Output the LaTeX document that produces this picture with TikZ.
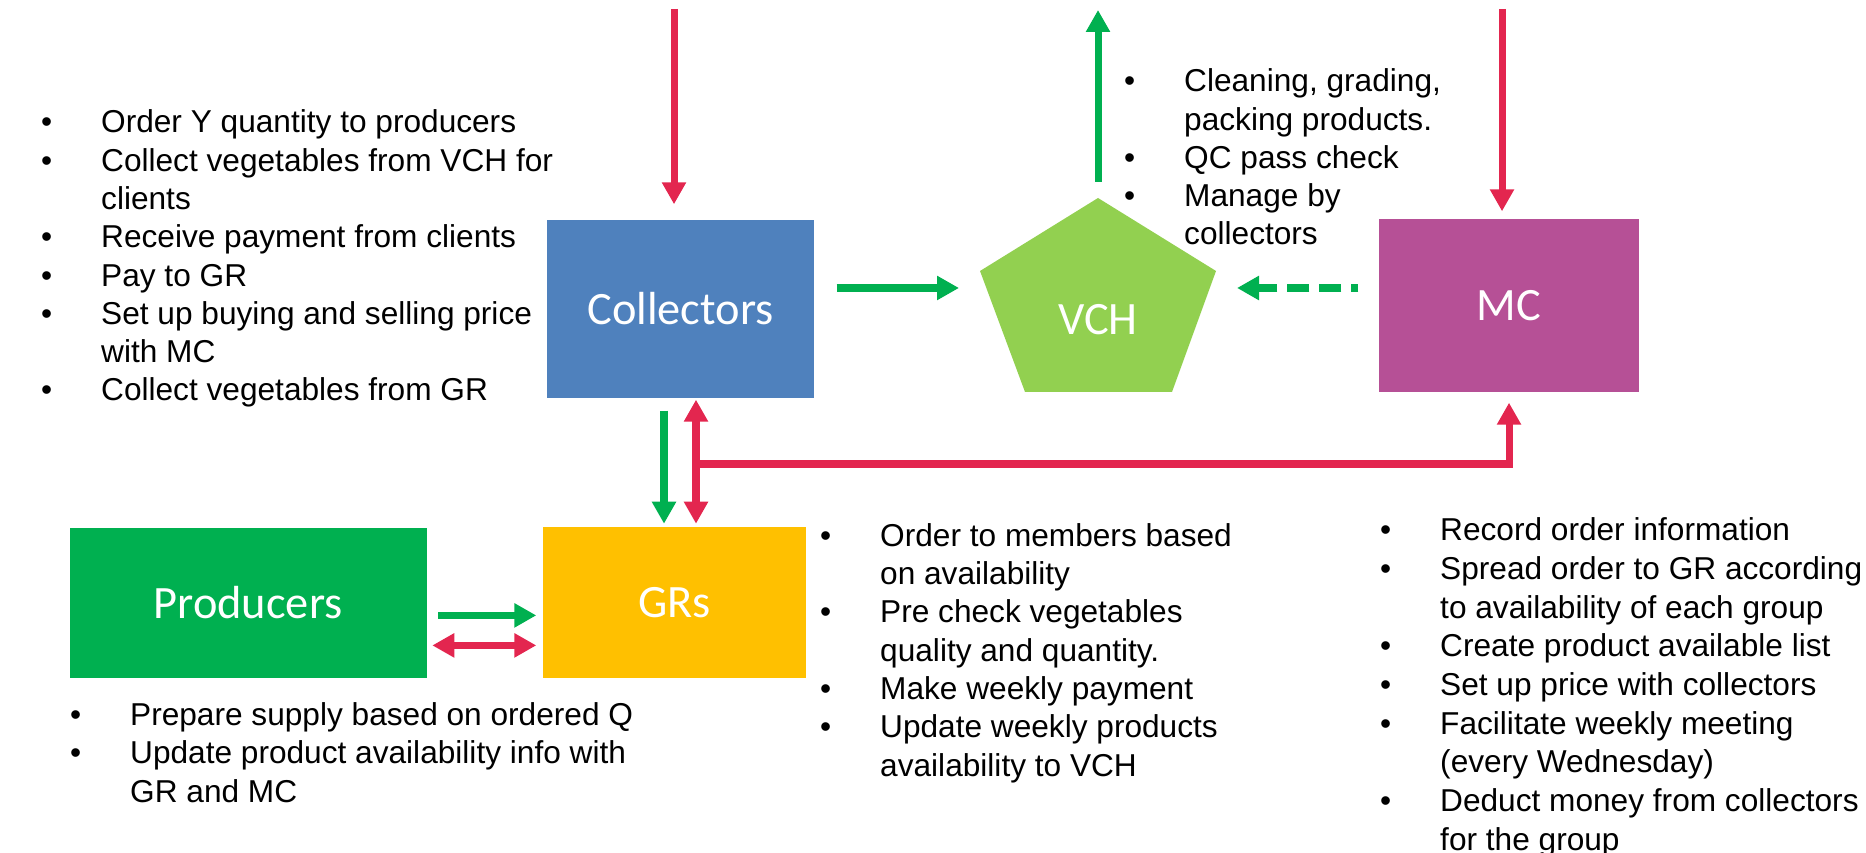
\documentclass[tikz,border=0pt]{standalone}
\usepackage{fontspec}
\setmainfont{Liberation Sans}
\newfontfamily\boxfont{Carlito}
\usetikzlibrary{arrows.meta,positioning}

\definecolor{ared}{HTML}{E3264F}
\definecolor{agreen}{HTML}{00B050}
\definecolor{cblue}{HTML}{4F81BD}
\definecolor{cgold}{HTML}{FFC000}
\definecolor{cpurple}{HTML}{B65096}
\definecolor{clime}{HTML}{92D050}

\newcommand{\bul}{\makebox[0.6cm][l]{\textbullet}}
\newcommand{\hang}{\makebox[0.6cm]{}}

\begin{document}
\begin{tikzpicture}[
	box/.style={inner sep=0pt, text=white, font=\boxfont\fontsize{13.2}{15}\selectfont},
	notes/.style={anchor=base west, align=left, inner sep=0pt, font=\fontsize{9}{10.9}\selectfont},
	tip/.style={-{Triangle[width=0.23cm,length=0.22cm]}},
	redline/.style={draw=ared, line width=2pt},
	greenline/.style={draw=agreen, line width=2pt}
]
\useasboundingbox (0,0) rectangle (18.66,8.52);

% boxes
\node[box, fill=cblue, minimum width=2.67cm, minimum height=1.78cm] (coll) at (6.805,5.43) {Collectors};
\node[box, fill=cgold, minimum width=2.63cm, minimum height=1.51cm, below=1.28cm of coll, xshift=-0.06cm] (gr) {GRs};
\node[box, fill=agreen, minimum width=3.57cm, minimum height=1.50cm, left=1.15cm of gr] (prod) {Producers};
\node[box, fill=cpurple, minimum width=2.60cm, minimum height=1.73cm] (mc) at (15.09,5.465) {MC};

% pentagon
\fill[clime] (10.98,6.54) coordinate (vchtop) -- (12.16,5.81) -- (11.72,4.60) -- (10.25,4.60) -- (9.80,5.81) -- cycle;
\node[box] (vch) at (10.98,5.32) {VCH};

\coordinate (collin) at (6.74,8.43);
\coordinate (mcin) at (15.02,8.43);
\coordinate (vchout) at (10.98,8.42);
\coordinate (vchleft) at (9.86,5.64);
\coordinate (vchright) at (12.10,5.64);
\coordinate (junc) at (6.96,3.88);

% arrows
\draw[redline, tip, shorten >=0.15cm] (collin) -- (collin |- coll.north);
\draw[redline, tip, shorten >=0.07cm] (mcin) -- (mcin |- mc.north);
\draw[greenline, tip, shorten <=0.16cm] (vchtop) -- (vchout);
\draw[greenline, tip, shorten <=0.22cm, shorten >=0.27cm] (coll.east |- vchleft) -- (vchleft);
\draw[greenline, tip, dash pattern=on 0.22cm off 0.1cm, dash phase=0.15cm, shorten <=0.20cm, shorten >=0.27cm] (mc.west |- vchright) -- (vchright);
\draw[greenline, tip, shorten <=0.12cm, shorten >=0.03cm] ([xshift=-0.165cm]coll.south) -- ([xshift=-0.165cm]coll.south |- gr.north);
\draw[redline, {Triangle[width=0.23cm,length=0.22cm]}-{Triangle[width=0.23cm,length=0.22cm]}, shorten <=0.01cm, shorten >=0.03cm] ([xshift=0.155cm]coll.south) -- ([xshift=0.155cm]coll.south |- gr.north);
\draw[redline, tip, shorten >=0.10cm] (junc) -| (mc.south);
\draw[greenline, tip, shorten <=0.11cm, shorten >=0.06cm] ([yshift=-0.125cm]prod.east) -- ([yshift=-0.125cm]prod.east -| gr.west);
\draw[redline, {Triangle[width=0.23cm,length=0.22cm]}-{Triangle[width=0.23cm,length=0.22cm]}, shorten <=0.05cm, shorten >=0.06cm] ([yshift=-0.425cm]prod.east) -- ([yshift=-0.425cm]prod.east -| gr.west);

% notes (anchored at the last line)
\node[notes] (collnotes) at (0.405,4.51) {\bul Order Y quantity to producers\\
\bul Collect vegetables from VCH for\\
\hang clients\\
\bul Receive payment from clients\\
\bul Pay to GR\\
\bul Set up buying and selling price\\
\hang with MC\\
\bul Collect vegetables from GR};

\node[notes] (vchnotes) at (11.235,6.07) {\bul Cleaning, grading,\\
\hang packing products.\\
\bul QC pass check\\
\bul Manage by\\
\hang collectors};

\node[notes] (grnotes) at (8.195,0.76) {\bul Order to members based\\
\hang on availability\\
\bul Pre check vegetables\\
\hang quality and quantity.\\
\bul Make weekly payment\\
\bul Update weekly products\\
\hang availability to VCH};

\node[notes, font=\fontsize{9}{11}\selectfont] (mcnotes) at (13.795,0.02) {\bul Record order information\\
\bul Spread order to GR according\\
\hang to availability of each group\\
\bul Create product available list\\
\bul Set up price with collectors\\
\bul Facilitate weekly meeting\\
\hang (every Wednesday)\\
\bul Deduct money from collectors\\
\hang for the group};

\node[notes] (prodnotes) at (0.695,0.50) {\bul Prepare supply based on ordered Q\\
\bul Update product availability info with\\
\hang GR and MC};

\end{tikzpicture}
\end{document}
